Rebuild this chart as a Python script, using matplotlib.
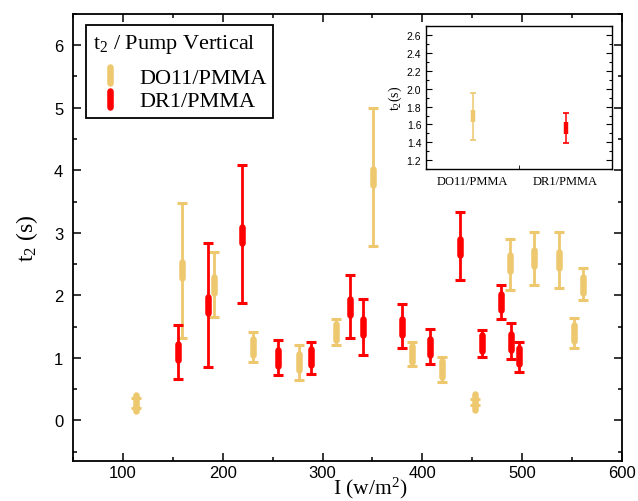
import numpy as np
import matplotlib.pyplot as plt
from matplotlib.markers import MarkerStyle
from matplotlib.ticker import MultipleLocator, FixedLocator

plt.rcParams['font.family'] = ['Liberation Sans', 'DejaVu Sans']
plt.rcParams['mathtext.fontset'] = 'custom'
plt.rcParams['mathtext.rm'] = 'Liberation Serif'
plt.rcParams['mathtext.it'] = 'Liberation Serif:italic'
plt.rcParams['mathtext.bf'] = 'Liberation Serif:bold'

# DO11/PMMA : intensity, t2, lower and upper end of the error bar
do11_I = [113, 159, 191, 230, 276, 313, 351, 390, 420, 453, 488, 512, 537, 552, 561]
do11_t2 = [0.27, 2.40, 2.17, 1.17, 0.94, 1.41, 3.89, 1.06, 0.82, 0.29, 2.51, 2.59, 2.57, 1.39, 2.17]
do11_low = [0.19, 1.32, 1.66, 0.93, 0.65, 1.20, 2.79, 0.87, 0.62, 0.24, 2.09, 2.17, 2.11, 1.15, 1.92]
do11_high = [0.35, 3.47, 2.70, 1.41, 1.21, 1.62, 4.99, 1.26, 1.02, 0.34, 2.90, 3.01, 3.01, 1.63, 2.43]

# DR1/PMMA
dr1_I = [155, 185, 219, 255, 288, 328, 341, 380, 408, 438, 460, 479, 489, 497]
dr1_t2 = [1.10, 1.84, 2.97, 1.00, 1.02, 1.82, 1.49, 1.50, 1.18, 2.78, 1.23, 1.89, 1.26, 1.03]
dr1_low = [0.66, 0.85, 1.88, 0.73, 0.74, 1.32, 1.05, 1.15, 0.90, 2.25, 1.01, 1.62, 0.98, 0.77]
dr1_high = [1.52, 2.84, 4.09, 1.28, 1.26, 2.33, 1.94, 1.86, 1.46, 3.33, 1.45, 2.16, 1.56, 1.26]

# inset: mean values
inset_labels = ['DO11/PMMA', 'DR1/PMMA']
inset_t2 = [1.69, 1.56]
inset_low = [1.43, 1.39]
inset_high = [1.95, 1.73]

gold = '#EDC86E'
red = '#FF0000'
serif = 'Liberation Serif'


def draw_series(ax, x, c, lo, hi, color, label, ms, mew, elw, cs, capstyle='round'):
    c = np.asarray(c)
    yerr = [c - np.asarray(lo), np.asarray(hi) - c]
    ax.errorbar(x, c, yerr=yerr, fmt='none', ecolor=color, elinewidth=elw,
                capsize=cs, capthick=elw * 1.1)
    ax.plot(x, c, ls='none', marker=MarkerStyle('|', capstyle=capstyle),
            ms=ms, mew=mew, color=color, label=label)


fig = plt.figure(figsize=(6.38, 5.02), dpi=100)
ax = fig.add_axes([0.1144, 0.0797, 0.8605, 0.8905])

draw_series(ax, do11_I, do11_t2, do11_low, do11_high, gold, 'DO11/PMMA', 11, 4.7, 2.0, 3.6)
draw_series(ax, dr1_I, dr1_t2, dr1_low, dr1_high, red, 'DR1/PMMA', 11, 4.7, 2.0, 3.6)

ax.set_xlim(50, 600)
ax.set_ylim(-0.65, 6.5)
ax.xaxis.set_major_locator(MultipleLocator(100))
ax.xaxis.set_minor_locator(MultipleLocator(50))
ax.yaxis.set_major_locator(MultipleLocator(1))
ax.yaxis.set_minor_locator(MultipleLocator(0.5))
ax.tick_params(which='both', direction='in', top=True, right=True, width=1.1)
ax.tick_params(which='major', length=6, labelsize=12, pad=7)
ax.tick_params(axis='x', which='major', pad=3)
ax.tick_params(which='minor', length=3)
for sp in ax.spines.values():
    sp.set_linewidth(1.3)

ax.set_xlabel('I (w/m$^2$)', family=serif, fontsize=15.5, va='bottom')
# the x label sits right at the bottom edge, a bit right of centre
ax.xaxis.set_label_coords(370 / 638, 1 / 502, transform=fig.transFigure)
ax.set_ylabel('t$_2$ (s)', family=serif, fontsize=17, labelpad=10)

leg = ax.legend(title='t$_2$ / Pump Vertical', loc='upper left',
                bbox_to_anchor=(0.0237, 0.975), borderaxespad=0,
                fancybox=False, edgecolor='black', framealpha=1,
                prop={'family': serif, 'size': 16},
                title_fontproperties={'family': serif, 'size': 16},
                alignment='left', handlelength=1.6, handletextpad=0.5,
                labelspacing=0.15, borderpad=0.3, numpoints=1)
leg.get_frame().set_linewidth(1.3)
# wider gap between the legend title and the entries
leg._legend_box.sep = 16 * 0.55

# inset with the averages
axi = fig.add_axes([0.668, 0.661, 0.2915, 0.285])
pos = np.arange(1, len(inset_labels) + 1)
cols = [gold, red]
for p, c, lo, hi, col in zip(pos, inset_t2, inset_low, inset_high, cols):
    draw_series(axi, [p], [c], [lo], [hi], col, None, 8.6, 3.2, 1.1, 2.2, capstyle='butt')

axi.set_xlim(0.5, 2.5)
axi.set_ylim(1.1, 2.7)
axi.set_xticks(pos)
axi.set_xticklabels(inset_labels, family=serif, fontsize=9)
axi.xaxis.set_minor_locator(FixedLocator([1.5]))
axi.yaxis.set_major_locator(MultipleLocator(0.2))
axi.yaxis.set_minor_locator(MultipleLocator(0.1))
axi.tick_params(axis='x', which='major', length=0, pad=4)
axi.tick_params(axis='x', which='minor', direction='in', length=3)
axi.tick_params(axis='y', which='both', direction='in', right=True, labelsize=7.5, width=0.8)
axi.tick_params(axis='y', which='major', length=4)
axi.tick_params(axis='y', which='minor', length=2)
axi.set_ylabel('t$_2$(s)', family=serif, fontsize=10, labelpad=2)
for sp in axi.spines.values():
    sp.set_linewidth(1.0)

fig.savefig('out.png', dpi=100)
